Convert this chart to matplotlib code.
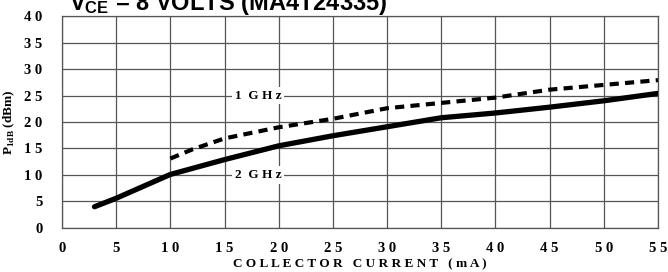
import matplotlib.pyplot as plt

# collector current (mA) vs P1dB (dBm)
ic_1ghz = [10, 12, 15, 20, 25, 30, 35, 40, 45, 50, 55]
p1db_1ghz = [13.1, 14.8, 16.9, 19.0, 20.6, 22.6, 23.6, 24.6, 26.1, 27.0, 27.9]

ic_2ghz = [3, 5, 10, 15, 20, 25, 30, 35, 40, 45, 50, 55]
p1db_2ghz = [4.0, 5.6, 10.1, 12.9, 15.5, 17.4, 19.1, 20.8, 21.7, 22.8, 24.0, 25.4]

x_ticks = list(range(0, 60, 5))
y_ticks = list(range(0, 45, 5))

plt.rcParams['mathtext.fontset'] = 'custom'
plt.rcParams['mathtext.rm'] = 'Liberation Serif:bold'
plt.rcParams['mathtext.sf'] = 'Liberation Sans:bold'

serif = 'Liberation Serif'

fig = plt.figure(figsize=(6.68, 2.72), dpi=100)
ax = fig.add_axes([0.0928, 0.162, 0.8922, 0.779])

ax.plot(ic_2ghz, p1db_2ghz, color='black', lw=3.8, solid_capstyle='round')
ax.plot(ic_1ghz, p1db_1ghz, color='black', lw=3.0, linestyle=(0, (2.2, 1.5)))

ax.set_xlim(0, 55)
ax.set_ylim(0, 40)
ax.set_xticks(x_ticks)
ax.set_yticks(y_ticks)
ax.set_xticklabels([' '.join(str(v)) for v in x_ticks], family=serif,
                   fontweight='bold', fontsize=10.5)
ax.set_yticklabels([' '.join(str(v)) for v in y_ticks], family=serif,
                   fontweight='bold', fontsize=10.5)
ax.tick_params(length=0, pad=14)
ax.tick_params(axis='x', pad=10)
ax.grid(True, color='#555555', lw=0.9)
for s in ax.spines.values():
    s.set_color('#555555')
    s.set_linewidth(0.9)

ax.set_xlabel('C O L L E C T O R   C U R R E N T   ( m A )', family=serif,
              fontweight='bold', fontsize=9.5, labelpad=2.5)
ax.set_ylabel(r'P$_{\mathregular{1dB}}$ (dBm)', family=serif,
              fontweight='bold', fontsize=9.5, labelpad=5)

ax.text(18.1, 25, '1  G H z', family=serif, fontweight='bold', fontsize=9.5,
        ha='center', va='center',
        bbox=dict(facecolor='white', edgecolor='none', pad=2))
ax.text(18.1, 10, '2  G H z', family=serif, fontweight='bold', fontsize=9.5,
        ha='center', va='center',
        bbox=dict(facecolor='white', edgecolor='none', pad=2))

fig.text(0.104, 1 - 10 / 272, r'$\mathsf{V_{CE}}$ = 8 VOLTS (MA4T24335)',
         family='Liberation Sans', fontweight='bold', fontsize=17,
         ha='left', va='baseline')

fig.savefig('out.png', dpi=100)
